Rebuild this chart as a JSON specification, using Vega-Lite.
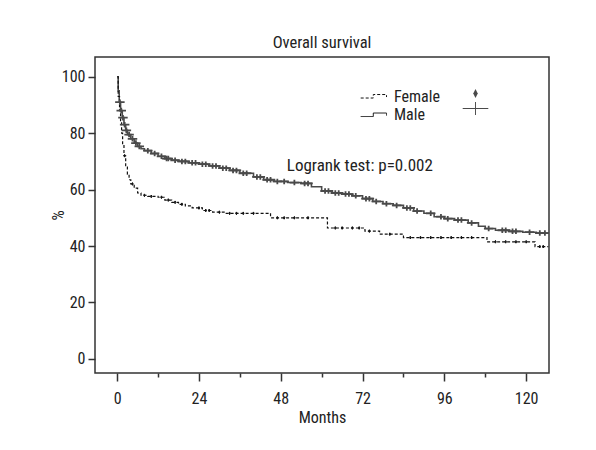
{
  "$schema": "https://vega.github.io/schema/vega-lite/v6.json",
  "autosize": "none",
  "width": 454,
  "height": 316,
  "padding": {"left": 95, "top": 57, "right": 47, "bottom": 77},
  "background": "white",
  "title": {"text": "Overall survival", "frame": "group", "anchor": "middle", "fontSize": 16.5, "fontWeight": "normal", "offset": 6, "color": "#222"},
  "datasets": {
    "curves": [
      {"sex": "Male", "month": 0, "pct": 100}, {"sex": "Male", "month": 0.3, "pct": 95}, {"sex": "Male", "month": 0.6, "pct": 91}, {"sex": "Male", "month": 1, "pct": 88}, {"sex": "Male", "month": 1.5, "pct": 85.5}, {"sex": "Male", "month": 2, "pct": 83}, {"sex": "Male", "month": 2.5, "pct": 81}, {"sex": "Male", "month": 3, "pct": 79.5}, {"sex": "Male", "month": 4, "pct": 78}, {"sex": "Male", "month": 5, "pct": 76.5}, {"sex": "Male", "month": 6, "pct": 75.3}, {"sex": "Male", "month": 7, "pct": 74.5}, {"sex": "Male", "month": 8, "pct": 73.8}, {"sex": "Male", "month": 10, "pct": 72.8}, {"sex": "Male", "month": 12, "pct": 71.8}, {"sex": "Male", "month": 14, "pct": 71}, {"sex": "Male", "month": 16, "pct": 70.4}, {"sex": "Male", "month": 18, "pct": 70}, {"sex": "Male", "month": 21, "pct": 69.5}, {"sex": "Male", "month": 24, "pct": 69}, {"sex": "Male", "month": 27, "pct": 68.4}, {"sex": "Male", "month": 30, "pct": 67.6}, {"sex": "Male", "month": 33, "pct": 66.8}, {"sex": "Male", "month": 36, "pct": 65.8}, {"sex": "Male", "month": 40, "pct": 64.5}, {"sex": "Male", "month": 43, "pct": 63.5}, {"sex": "Male", "month": 46, "pct": 62.9}, {"sex": "Male", "month": 50, "pct": 62.5}, {"sex": "Male", "month": 54, "pct": 62.2}, {"sex": "Male", "month": 57, "pct": 61}, {"sex": "Male", "month": 60, "pct": 59.5}, {"sex": "Male", "month": 63, "pct": 58.8}, {"sex": "Male", "month": 66, "pct": 58.4}, {"sex": "Male", "month": 69, "pct": 57.8}, {"sex": "Male", "month": 72, "pct": 56.8}, {"sex": "Male", "month": 75, "pct": 55.8}, {"sex": "Male", "month": 78, "pct": 55}, {"sex": "Male", "month": 81, "pct": 54.4}, {"sex": "Male", "month": 84, "pct": 53.5}, {"sex": "Male", "month": 87, "pct": 52.4}, {"sex": "Male", "month": 90, "pct": 51.6}, {"sex": "Male", "month": 93, "pct": 50.4}, {"sex": "Male", "month": 96, "pct": 49.7}, {"sex": "Male", "month": 99, "pct": 49.2}, {"sex": "Male", "month": 103, "pct": 48.2}, {"sex": "Male", "month": 106, "pct": 47}, {"sex": "Male", "month": 108, "pct": 46.2}, {"sex": "Male", "month": 111, "pct": 45.6}, {"sex": "Male", "month": 115, "pct": 45.2}, {"sex": "Male", "month": 119, "pct": 44.9}, {"sex": "Male", "month": 123, "pct": 44.6}, {"sex": "Male", "month": 126.5, "pct": 44.3},
      {"sex": "Female", "month": 0, "pct": 100}, {"sex": "Female", "month": 0.3, "pct": 93}, {"sex": "Female", "month": 0.7, "pct": 88}, {"sex": "Female", "month": 1, "pct": 84}, {"sex": "Female", "month": 1.3, "pct": 80}, {"sex": "Female", "month": 1.6, "pct": 76}, {"sex": "Female", "month": 2, "pct": 72}, {"sex": "Female", "month": 2.5, "pct": 68}, {"sex": "Female", "month": 3, "pct": 65.5}, {"sex": "Female", "month": 3.5, "pct": 63.5}, {"sex": "Female", "month": 4, "pct": 62}, {"sex": "Female", "month": 5, "pct": 60.5}, {"sex": "Female", "month": 6, "pct": 58.8}, {"sex": "Female", "month": 7, "pct": 58}, {"sex": "Female", "month": 9, "pct": 57.6}, {"sex": "Female", "month": 12, "pct": 57.3}, {"sex": "Female", "month": 14, "pct": 56.3}, {"sex": "Female", "month": 16, "pct": 55.5}, {"sex": "Female", "month": 18, "pct": 54.8}, {"sex": "Female", "month": 20, "pct": 54.2}, {"sex": "Female", "month": 22, "pct": 53.5}, {"sex": "Female", "month": 25, "pct": 52.6}, {"sex": "Female", "month": 28, "pct": 52}, {"sex": "Female", "month": 32, "pct": 51.6}, {"sex": "Female", "month": 45, "pct": 50}, {"sex": "Female", "month": 61.7, "pct": 46.4}, {"sex": "Female", "month": 72.7, "pct": 45.3}, {"sex": "Female", "month": 77, "pct": 44.2}, {"sex": "Female", "month": 84, "pct": 43}, {"sex": "Female", "month": 108.5, "pct": 41.5}, {"sex": "Female", "month": 122.6, "pct": 39.8}, {"sex": "Female", "month": 126.5, "pct": 39.8}
    ],
    "censors": [
      {"sex": "Male", "month": 0.8, "pct": 91}, {"sex": "Male", "month": 1.2, "pct": 88}, {"sex": "Male", "month": 1.7, "pct": 85.5}, {"sex": "Male", "month": 2.2, "pct": 83}, {"sex": "Male", "month": 2.7, "pct": 81}, {"sex": "Male", "month": 3.5, "pct": 79.5}, {"sex": "Male", "month": 4.5, "pct": 78}, {"sex": "Male", "month": 5.5, "pct": 76.5}, {"sex": "Male", "month": 6.5, "pct": 75.3}, {"sex": "Male", "month": 9, "pct": 73.8}, {"sex": "Male", "month": 11, "pct": 72.8}, {"sex": "Male", "month": 13, "pct": 71.8}, {"sex": "Male", "month": 14.5, "pct": 71}, {"sex": "Male", "month": 15, "pct": 71}, {"sex": "Male", "month": 17, "pct": 70.4}, {"sex": "Male", "month": 19, "pct": 70}, {"sex": "Male", "month": 20, "pct": 70}, {"sex": "Male", "month": 22, "pct": 69.5}, {"sex": "Male", "month": 23, "pct": 69.5}, {"sex": "Male", "month": 25, "pct": 69}, {"sex": "Male", "month": 26, "pct": 69}, {"sex": "Male", "month": 28, "pct": 68.4}, {"sex": "Male", "month": 29, "pct": 68.4}, {"sex": "Male", "month": 31, "pct": 67.6}, {"sex": "Male", "month": 32, "pct": 67.6}, {"sex": "Male", "month": 34, "pct": 66.8}, {"sex": "Male", "month": 35, "pct": 66.8}, {"sex": "Male", "month": 37, "pct": 65.8}, {"sex": "Male", "month": 38, "pct": 65.8}, {"sex": "Male", "month": 41, "pct": 64.5}, {"sex": "Male", "month": 42, "pct": 64.5}, {"sex": "Male", "month": 44, "pct": 63.5}, {"sex": "Male", "month": 45, "pct": 63.5}, {"sex": "Male", "month": 47, "pct": 62.9}, {"sex": "Male", "month": 49, "pct": 62.9}, {"sex": "Male", "month": 52, "pct": 62.5}, {"sex": "Male", "month": 55, "pct": 62.2}, {"sex": "Male", "month": 56, "pct": 62.2}, {"sex": "Male", "month": 61, "pct": 59.5}, {"sex": "Male", "month": 62, "pct": 59.5}, {"sex": "Male", "month": 64, "pct": 58.8}, {"sex": "Male", "month": 65, "pct": 58.8}, {"sex": "Male", "month": 67, "pct": 58.4}, {"sex": "Male", "month": 68, "pct": 58.4}, {"sex": "Male", "month": 70, "pct": 57.8}, {"sex": "Male", "month": 73, "pct": 56.8}, {"sex": "Male", "month": 74, "pct": 56.8}, {"sex": "Male", "month": 76, "pct": 55.8}, {"sex": "Male", "month": 79, "pct": 55}, {"sex": "Male", "month": 82, "pct": 54.4}, {"sex": "Male", "month": 85, "pct": 53.5}, {"sex": "Male", "month": 86, "pct": 53.5}, {"sex": "Male", "month": 88, "pct": 52.4}, {"sex": "Male", "month": 92, "pct": 51.6}, {"sex": "Male", "month": 95, "pct": 50.4}, {"sex": "Male", "month": 97, "pct": 49.7}, {"sex": "Male", "month": 100, "pct": 49.2}, {"sex": "Male", "month": 101, "pct": 49.2}, {"sex": "Male", "month": 104, "pct": 48.2}, {"sex": "Male", "month": 109, "pct": 46.2}, {"sex": "Male", "month": 113, "pct": 45.6}, {"sex": "Male", "month": 114, "pct": 45.6}, {"sex": "Male", "month": 116, "pct": 45.2}, {"sex": "Male", "month": 117, "pct": 45.2}, {"sex": "Male", "month": 121, "pct": 44.9}, {"sex": "Male", "month": 124, "pct": 44.6}, {"sex": "Male", "month": 125.5, "pct": 44.6},
      {"sex": "Female", "month": 2.2, "pct": 72}, {"sex": "Female", "month": 4.5, "pct": 62}, {"sex": "Female", "month": 8, "pct": 58}, {"sex": "Female", "month": 10, "pct": 57.6}, {"sex": "Female", "month": 13, "pct": 57.3}, {"sex": "Female", "month": 15, "pct": 56.3}, {"sex": "Female", "month": 17, "pct": 55.5}, {"sex": "Female", "month": 19, "pct": 54.8}, {"sex": "Female", "month": 24, "pct": 53.5}, {"sex": "Female", "month": 26, "pct": 52.6}, {"sex": "Female", "month": 27, "pct": 52.6}, {"sex": "Female", "month": 30, "pct": 52}, {"sex": "Female", "month": 33, "pct": 51.6}, {"sex": "Female", "month": 35, "pct": 51.6}, {"sex": "Female", "month": 37, "pct": 51.6}, {"sex": "Female", "month": 40, "pct": 51.6}, {"sex": "Female", "month": 47, "pct": 50}, {"sex": "Female", "month": 49, "pct": 50}, {"sex": "Female", "month": 52, "pct": 50}, {"sex": "Female", "month": 56, "pct": 50}, {"sex": "Female", "month": 64, "pct": 46.4}, {"sex": "Female", "month": 66, "pct": 46.4}, {"sex": "Female", "month": 69, "pct": 46.4}, {"sex": "Female", "month": 71, "pct": 46.4}, {"sex": "Female", "month": 74, "pct": 45.3}, {"sex": "Female", "month": 80, "pct": 44.2}, {"sex": "Female", "month": 86, "pct": 43}, {"sex": "Female", "month": 89, "pct": 43}, {"sex": "Female", "month": 92, "pct": 43}, {"sex": "Female", "month": 95, "pct": 43}, {"sex": "Female", "month": 98, "pct": 43}, {"sex": "Female", "month": 101, "pct": 43}, {"sex": "Female", "month": 104, "pct": 43}, {"sex": "Female", "month": 111, "pct": 41.5}, {"sex": "Female", "month": 114, "pct": 41.5}, {"sex": "Female", "month": 117, "pct": 41.5}, {"sex": "Female", "month": 120, "pct": 41.5}, {"sex": "Female", "month": 124, "pct": 39.8}, {"sex": "Female", "month": 125, "pct": 39.8}
    ],
    "notes": [
      {"label": "Logrank test: p=0.002", "month": 71.2, "pct": 66.7}
    ]
  },
  "layer": [
    {
      "data": {"name": "curves"},
      "mark": {"type": "line", "interpolate": "step-after", "clip": true},
      "encoding": {
        "x": {
          "field": "month", "type": "quantitative",
          "scale": {"domain": [-6.5, 126.7], "nice": false, "zero": false},
          "axis": {
            "values": [0, 12, 24, 36, 48, 60, 72, 84, 96, 108, 120],
            "labelExpr": "datum.value % 24 === 0 ? datum.label : ''",
            "tickSize": {"condition": {"test": "datum.value % 24 === 0", "value": 8}, "value": 4},
            "title": "Months",
            "titlePadding": 3,
            "labelPadding": 9
          }
        },
        "y": {
          "field": "pct", "type": "quantitative",
          "scale": {"domain": [-5, 107], "nice": false, "zero": false},
          "axis": {
            "values": [0, 20, 40, 60, 80, 100],
            "title": "%",
            "titlePadding": -5,
            "tickSize": 7,
            "labelPadding": 3
          }
        },
        "strokeDash": {
          "field": "sex", "type": "nominal",
          "scale": {"domain": ["Female", "Male"], "range": [[3, 2], [1, 0]]},
          "legend": {
            "orient": "none", "legendX": 276, "legendY": 30, "title": null,
            "symbolType": "M-2.2,0.17H-0.8V-0.22H0.67V0.06",
            "symbolSize": 324, "symbolFillColor": "transparent", "symbolStrokeColor": "#111", "symbolStrokeWidth": 1,
            "labelFontSize": 16, "labelOffset": 4, "rowPadding": 0.5, "padding": 0,
            "labelColor": "#222"
          }
        },
        "stroke": {"condition": {"test": "datum.sex === 'Female'", "value": "#111"}, "value": "#4a4a4a"},
        "strokeWidth": {"condition": {"test": "datum.sex === 'Female'", "value": 1.2}, "value": 1.6}
      }
    },
    {
      "data": {"name": "censors"},
      "mark": {"type": "point", "opacity": 1, "clip": true, "filled": true},
      "encoding": {
        "x": {"field": "month", "type": "quantitative"},
        "y": {"field": "pct", "type": "quantitative"},
        "shape": {
          "field": "sex", "type": "nominal",
          "scale": {"range": ["M0,-0.55L0.28,0L0,0.55L-0.28,0Z", "M-1.6,-0.06H1.6V0.06H-1.6Z M-0.06,-0.8H0.06V0.8H-0.06Z"]},
          "legend": {
            "orient": "none", "legendX": 372, "legendY": 28, "title": null,
            "symbolSize": 256, "symbolFillColor": "#222", "symbolStrokeColor": "#444", "symbolStrokeWidth": 1,
            "labelExpr": "''", "labelOffset": 0, "labelFontSize": 1, "rowPadding": 0, "padding": 0
          }
        },
        "size": {"value": 25},
        "strokeWidth": {"condition": {"test": "datum.sex === 'Female'", "value": 1}, "value": 1.5},
        "fill": {"condition": {"test": "datum.sex === 'Female'", "value": "#111"}, "value": "#4a4a4a"},
        "stroke": {"condition": {"test": "datum.sex === 'Female'", "value": "#111"}, "value": "#4a4a4a"}
      }
    },
    {
      "data": {"name": "notes"},
      "mark": {"type": "text", "fontSize": 17, "align": "center", "baseline": "alphabetic", "color": "#222"},
      "encoding": {
        "x": {"field": "month", "type": "quantitative"},
        "y": {"field": "pct", "type": "quantitative"},
        "text": {"field": "label"}
      }
    }
  ],
  "config": {
    "font": "Liberation Sans Narrow, Roboto Condensed, DejaVu Sans Condensed, sans-serif",
    "view": {"stroke": "#333", "strokeWidth": 1.5},
    "axis": {
      "grid": false,
      "domain": false,
      "tickColor": "#333",
      "tickWidth": 1.5,
      "labelFontSize": 16,
      "labelColor": "#222",
      "titleFontSize": 16,
      "titleFontWeight": "normal",
      "titleColor": "#222"
    }
  }
}
